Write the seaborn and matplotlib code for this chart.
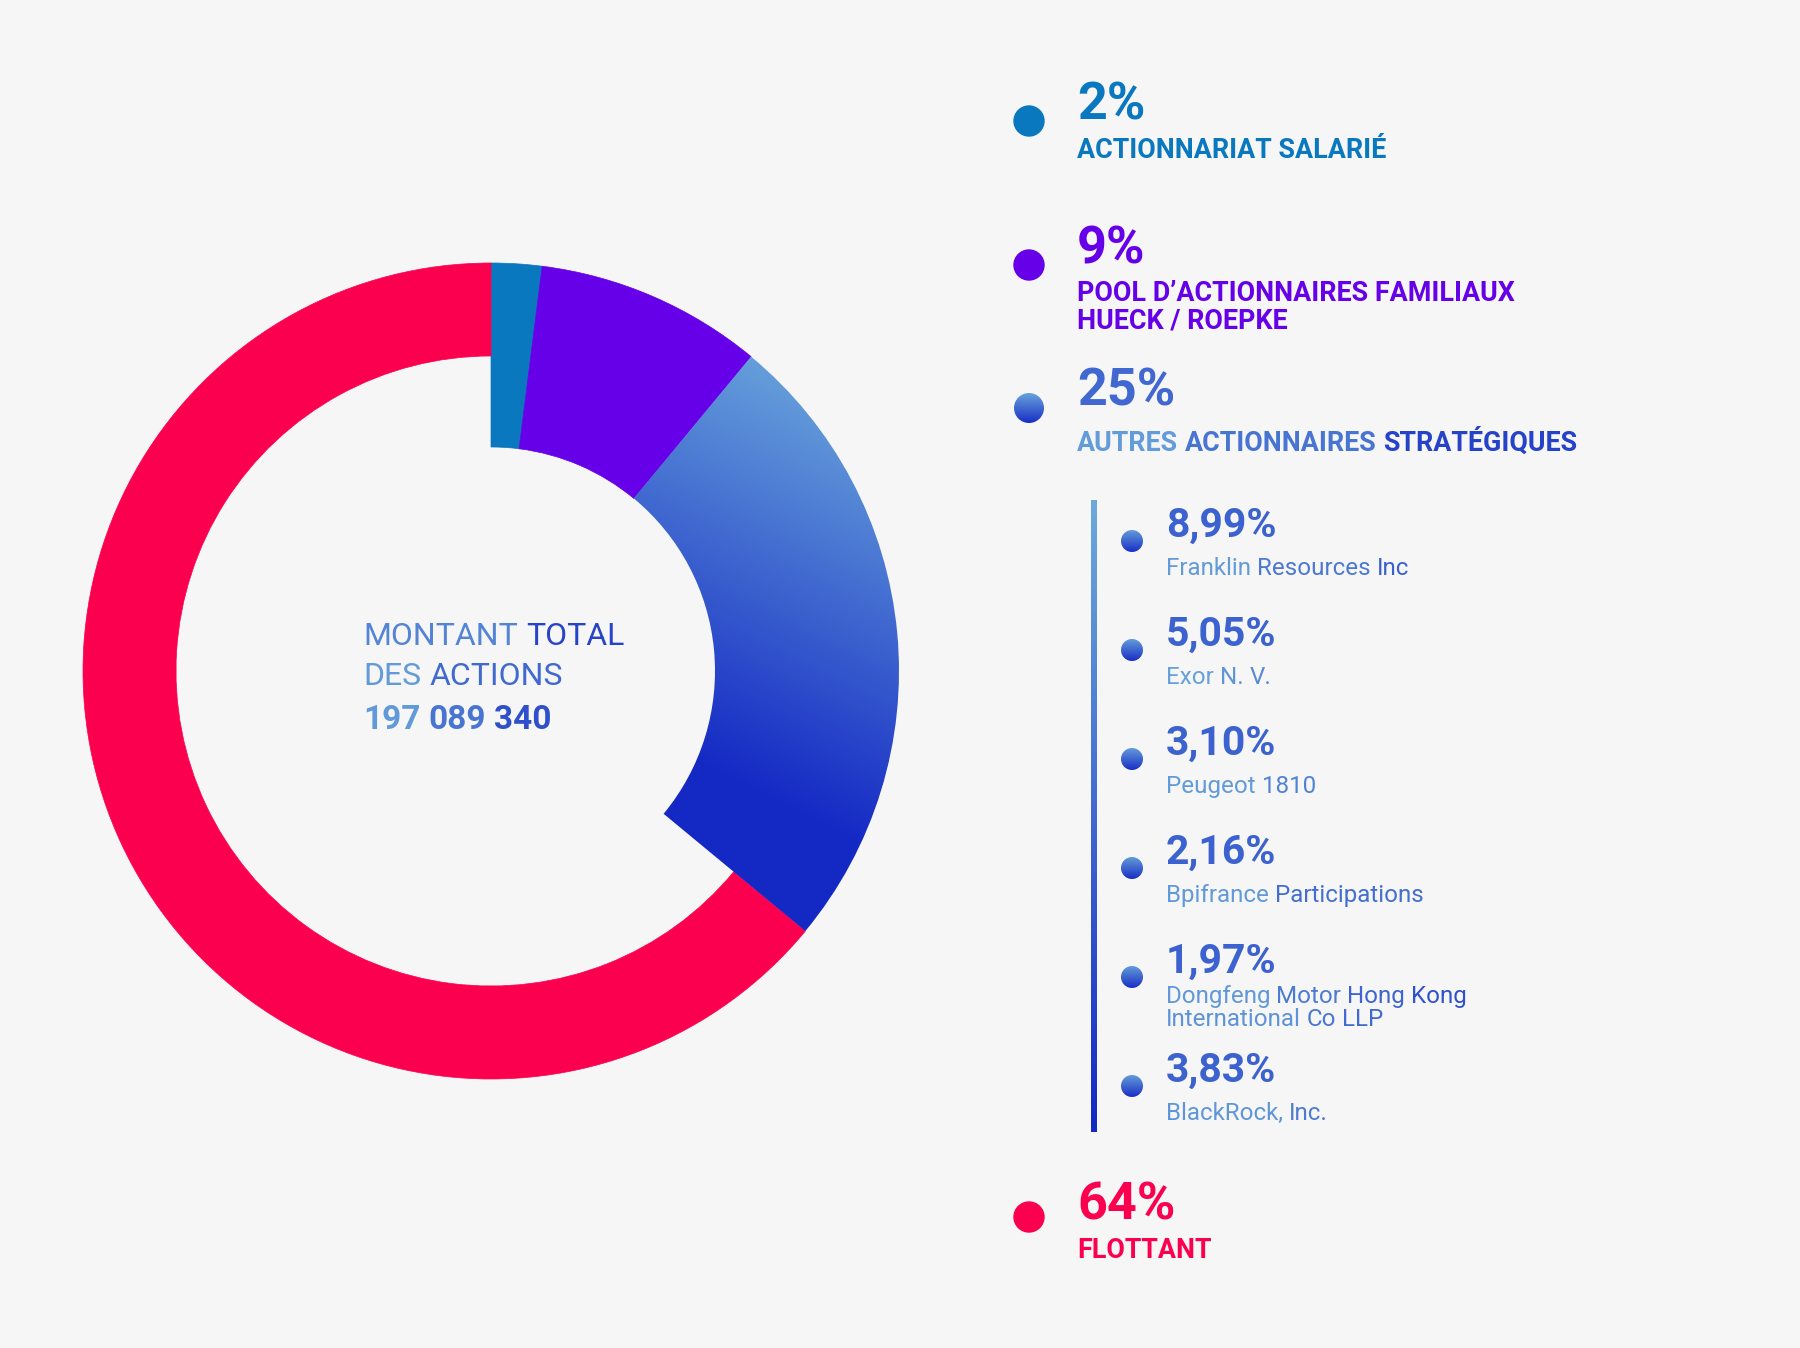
import numpy as np
import matplotlib
matplotlib.use("Agg")
import matplotlib.pyplot as plt
from matplotlib.patches import Wedge, Circle, Rectangle
import seaborn as sns

### data
main_labels = ["ACTIONNARIAT SALARIÉ",
               "POOL D’ACTIONNAIRES FAMILIAUX\nHUECK / ROEPKE",
               "AUTRES ACTIONNAIRES STRATÉGIQUES",
               "FLOTTANT"]
main_pct = [2, 9, 25, 64]
sub_names = ["Franklin Resources Inc", "Exor N. V.", "Peugeot 1810",
             "Bpifrance Participations",
             "Dongfeng Motor Hong Kong\nInternational Co LLP",
             "BlackRock, Inc."]
sub_pct = [8.99, 5.05, 3.10, 2.16, 1.97, 3.83]
center_lines = ["MONTANT TOTAL", "DES ACTIONS"]
total_shares = 197089340

### styles
BG = "#F6F6F6"
BLUE = "#0A78BE"
PURPLE = "#6600E8"
RED = "#FC0050"
LIGHT = "#6CA9DC"
DEEP = "#1428C4"

sns.set_theme(style="white")
plt.rcParams['font.family'] = ['Roboto', 'DejaVu Sans']

W, H = 1800, 1348
fig = plt.figure(figsize=(18, 13.48), dpi=100, facecolor=BG)
ax = fig.add_axes([0, 0, 1, 1])
ax.set_facecolor(BG)
ax.set_xlim(0, W)
ax.set_ylim(H, 0)
ax.axis('off')

grad_cmap = sns.blend_palette([LIGHT, DEEP], n_colors=256, as_cmap=True)
rend = fig.canvas.get_renderer()


def grad_fill(patch, x0, x1, y0, y1, tfunc, zorder=2):
    # gradient image clipped to a patch
    patch.set_facecolor('none')
    patch.set_edgecolor('none')
    ax.add_patch(patch)
    xs = np.linspace(x0, x1, 200)
    ys = np.linspace(y0, y1, 200)
    X, Y = np.meshgrid(xs, ys)
    T = np.clip(tfunc(X, Y), 0, 1)
    im = ax.imshow(T, cmap=grad_cmap, vmin=0, vmax=1, extent=(x0, x1, y1, y0),
                   interpolation='bilinear', zorder=zorder)
    im.set_clip_path(patch)


def measure(s, **kw):
    t = ax.text(0, 0, s, **kw)
    w = t.get_window_extent(renderer=rend).width
    t.remove()
    return w


def grad_text(x, y, s, span, **kw):
    # word by word colour along the gradient
    words = s.split(' ')
    for i, w in enumerate(words):
        full = measure(' '.join(words[:i + 1]), **kw)
        ww = measure(w, **kw)
        start = full - ww
        t = np.clip((start + ww / 2) / span, 0, 1)
        ax.text(x + start, y, w, color=grad_cmap(t), va='baseline', **kw)


### donut
cx, cy, R = 491, 671, 408
inner = [224, 224, 224, 315]
cum = np.concatenate([[0], np.cumsum(main_pct)]) / sum(main_pct) * 360
solid = [BLUE, PURPLE, None, RED]
for i in range(len(main_pct)):
    wd = Wedge((cx, cy), R, -90 + cum[i], -90 + cum[i + 1], width=R - inner[i])
    if solid[i] is None:
        grad_fill(wd, cx, cx + R, cy - R, cy + R,
                  lambda X, Y: ((X - 820) * -0.45 + (Y - 350) * 0.9) / 430)
    else:
        wd.set_facecolor(solid[i])
        wd.set_edgecolor(solid[i])
        wd.set_linewidth(0.5)
        ax.add_patch(wd)

### center text
cfont = dict(fontsize=23, fontweight='normal')
grad_text(363, 645, center_lines[0], 270, **cfont)
grad_text(363, 685, center_lines[1], 270, **cfont)
grad_text(363, 729, f"{total_shares:,}".replace(',', ' '), 230,
          fontsize=24, fontweight='bold')

### main legend
dot_x, txt_x = 1029, 1077
dot_y = [121, 265, 408, 1217]
pct_y = [120, 264, 406, 1219]
lab_y = [158, 301, 451, 1258]
leg_colors = [BLUE, PURPLE, None, RED]
lab_w = 'semibold'
for i in range(len(main_pct)):
    c = leg_colors[i]
    dot = Circle((dot_x, dot_y[i]), 15)
    if c is None:
        y0 = dot_y[i] - 15
        grad_fill(dot, dot_x - 15, dot_x + 15, y0, y0 + 30,
                  lambda X, Y, y0=y0: (Y - y0) / 30 * 0.9 + 0.05, zorder=3)
        ax.text(txt_x, pct_y[i], f"{main_pct[i]}%", color=grad_cmap(0.5),
                fontsize=37.5, fontweight='bold', va='baseline')
        grad_text(txt_x, lab_y[i], main_labels[i], 506, fontsize=19.4, fontweight=lab_w)
    else:
        dot.set_color(c)
        ax.add_patch(dot)
        ax.text(txt_x, pct_y[i], f"{main_pct[i]}%", color=c,
                fontsize=37.5, fontweight='bold', va='baseline')
        for k, line in enumerate(main_labels[i].split('\n')):
            ax.text(txt_x, lab_y[i] + 27 * k, line, color=c,
                    fontsize=19.4, fontweight=lab_w, va='baseline')

### vertical bar
grad_fill(Rectangle((1091, 500), 6, 632), 1091, 1097, 500, 1132,
          lambda X, Y: (Y - 500) / 632)

### sub list
sdot_x, stxt_x = 1132, 1166
for i in range(len(sub_pct)):
    yd = 541 + 109 * i
    y0 = yd - 11
    grad_fill(Circle((sdot_x, yd), 11), sdot_x - 11, sdot_x + 11, y0, y0 + 22,
              lambda X, Y, y0=y0: (Y - y0) / 22 * 0.85 + 0.1, zorder=3)
    yp = yd - 4
    ax.text(stxt_x, yp, f"{sub_pct[i]:.2f}".replace('.', ',') + '%',
            color=grad_cmap(0.55), fontsize=29.4, fontweight='bold', va='baseline')
    lines = sub_names[i].split('\n')
    yn = yp + (30 if len(lines) > 1 else 38)
    for k, line in enumerate(lines):
        grad_text(stxt_x, yn + 23.5 * k, line, 400, fontsize=17.4, fontweight='normal')

fig.savefig("out.png", dpi=100, facecolor=BG)
